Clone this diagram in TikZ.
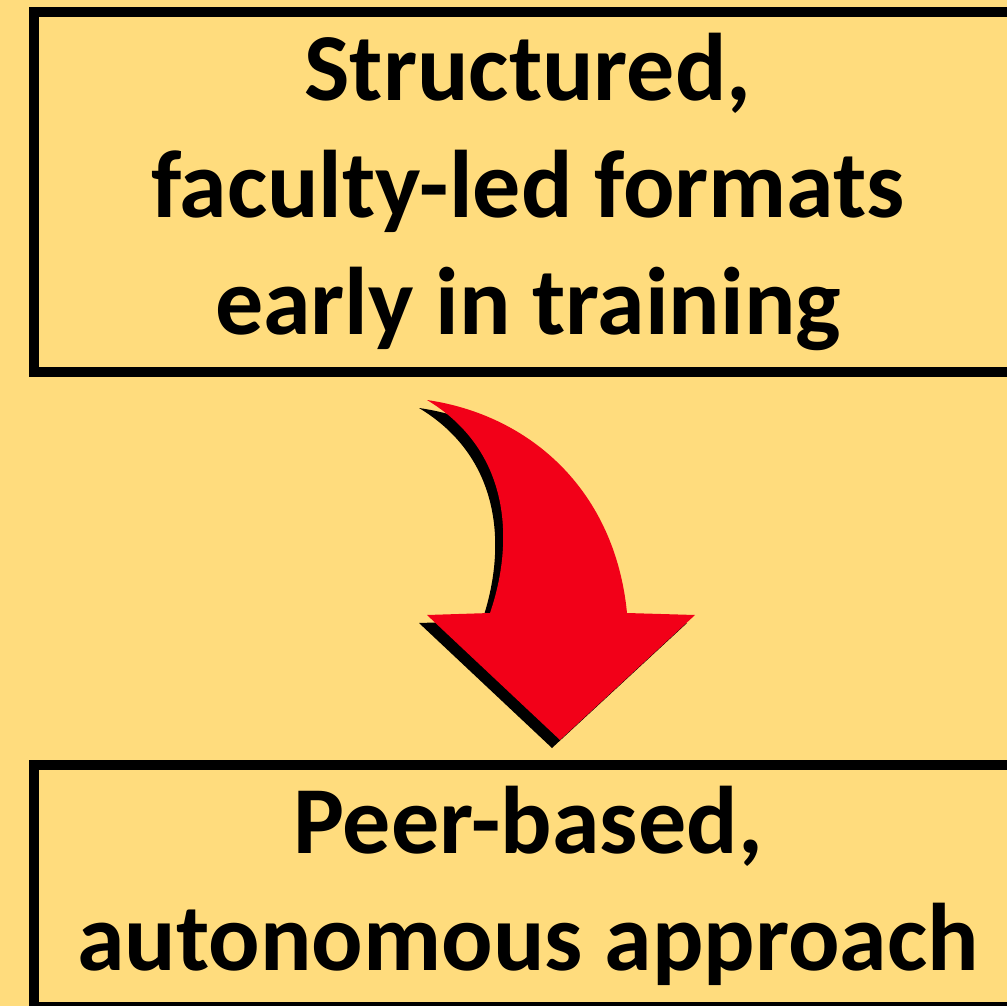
\documentclass[tikz,border=0pt]{standalone}
\usepackage{fontspec}
\setmainfont{Carlito}
\definecolor{paper}{RGB}{255,220,125}
\definecolor{arrowred}{RGB}{242,0,24}
\tikzset{
  stagebox/.style={draw=black, line width=10pt, inner sep=0pt, align=center,
    font=\fontsize{96}{117}\selectfont\bfseries},
}
\begin{document}
\begin{tikzpicture}[x=1pt,y=1pt,yscale=-1,xscale=1]
\useasboundingbox (0,0) rectangle (1007,1006);
\clip (0,0) rectangle (1007,1006);
\fill[paper] (0,0) rectangle (1007,1006);

% Text Node
\node[stagebox, minimum width=988pt, minimum height=360.5pt] (early) at (528,192)
  {Structured,\\faculty-led formats\\early in training};
% Text Node
\node[stagebox, minimum width=988pt, minimum height=242pt] (late) at (528,886)
  {Peer-based,\\autonomous approach};

%Shape: Curved Arrow shadow
\fill[black, shift={(-8,8)}] (427,400) .. controls (530,415) and (615,490) .. (627,613)
  -- (695,615) -- (560,740) -- (427,615) -- (490,613)
  .. controls (515,540) and (510,450) .. (427,400) -- cycle;
%Shape: Curved Arrow
\fill[arrowred] (427,400) .. controls (530,415) and (615,490) .. (627,613)
  -- (695,615) -- (560,740) -- (427,615) -- (490,613)
  .. controls (515,540) and (510,450) .. (427,400) -- cycle;

\end{tikzpicture}
\end{document}
